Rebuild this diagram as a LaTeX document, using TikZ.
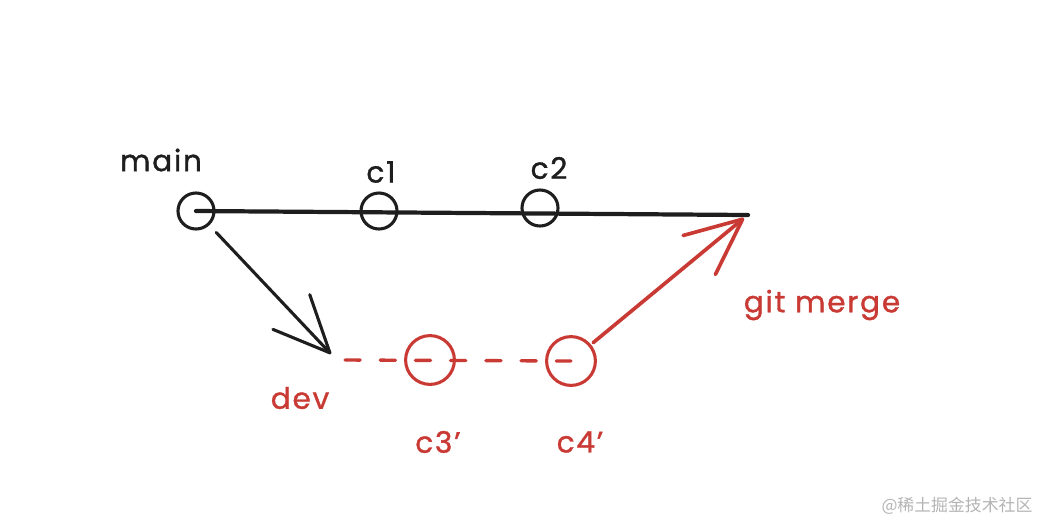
\documentclass[tikz,border=0pt]{standalone}
\usepackage{fontspec}
\setmainfont{Poppins}
\newfontfamily\cjk{Noto Sans CJK SC}
\usetikzlibrary{positioning, arrows.meta}
\definecolor{tinta}{RGB}{30,30,30}
\definecolor{rojo}{RGB}{201,58,52}
\definecolor{marca}{RGB}{180,180,180}

\begin{document}
\begin{tikzpicture}[x=0.025cm, y=-0.025cm, line cap=round,
		commit/.style={circle, draw=tinta, line width=2.2pt, minimum size=0.9cm, inner sep=0pt},
		nuevo/.style={circle, draw=rojo, line width=2.2pt, minimum size=1.22cm, inner sep=0pt},
		etiqueta/.style={font=\fontsize{21}{25}\selectfont\addfontfeatures{LetterSpace=6, FakeBold=1.2}, inner sep=1pt},
		punta/.style={-{Straight Barb[length=40pt, width=36pt, round]}}]
		
		% Marco de la imagen
		\useasboundingbox (0,0) rectangle (1044,522);
		
		% --- 1. RAMA MAIN ---
		\node[commit] (main) at (196,211) {};
		\node[commit] (c1) at (379,211) {};
		\node[commit] (c2) at (540,208) {};
		\coordinate (finmain) at (748,215);
		\draw[tinta, line width=3pt] (main.center) -- (finmain);
		
		\node[etiqueta, text=tinta] (tmain) at (161,160) {main};
		\node[etiqueta, text=tinta] (tc1) at (381,172) {c1};
		\node[etiqueta, text=tinta] (tc2) at (549,168) {c2};
		
		% --- 2. RAMA DEV ---
		\coordinate (devpunta) at (331,354);
		\draw[punta, tinta, line width=2.2pt, shorten <=0.25cm] (main) -- (devpunta);
		
		\node[nuevo] (c3) at (430,360) {};
		\node[nuevo] (c4) at (571,361) {};
		\coordinate (devinicio) at (345,360);
		\draw[rojo, line width=2.4pt, dash pattern=on 0.38cm off 0.5cm] (devinicio) -- (c4.center);
		
		\node[etiqueta, text=rojo] (tdev) at (300,398) {dev};
		\node[etiqueta, text=rojo] (tc3) at (438,442) {c3'};
		\node[etiqueta, text=rojo] (tc4) at (580,442) {c4'};
		
		% --- 3. MERGE ---
		\coordinate (mergepunta) at (744,218);
		\draw[punta, rojo, line width=2.6pt, shorten <=2pt] (c4) -- (mergepunta);
		\node[etiqueta, text=rojo] (tmerge) at (822,305) {git merge};
		
		% Marca de agua
		\node[text=marca, font=\cjk\fontsize{12}{14}\selectfont] (wm) at (957,506) {@稀土掘金技术社区};
		
	\end{tikzpicture}
\end{document}
